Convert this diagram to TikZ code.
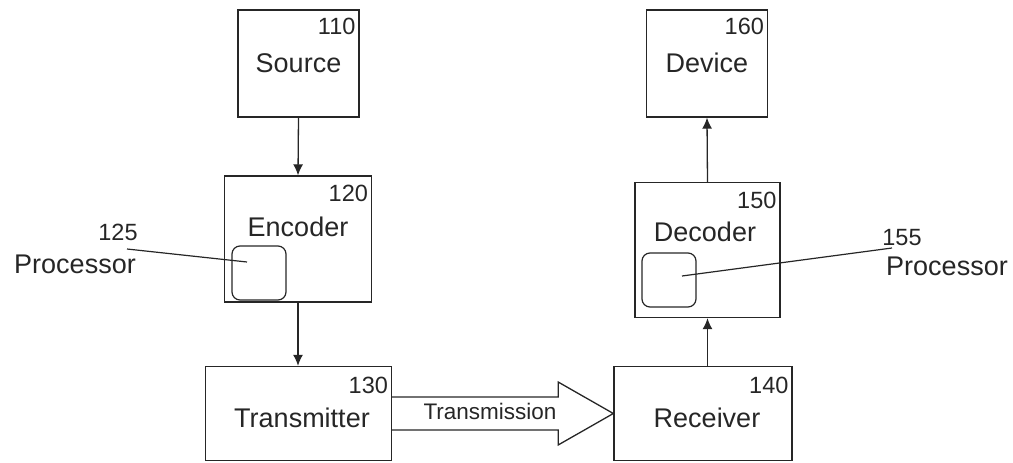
\documentclass[tikz,border=0pt]{standalone}
\usepackage{fontspec}
\setmainfont{Liberation Sans}
\usetikzlibrary{arrows.meta,calc}
\colorlet{ink}{black!85}
\begin{document}
\begin{tikzpicture}[x=1pt,y=-1pt,
  box/.style={draw=ink,line width=1.3pt,rectangle,inner sep=0pt},
  proc/.style={draw=ink,line width=1.2pt,rectangle,rounded corners=8pt,minimum width=54pt,minimum height=54pt,inner sep=0pt},
  lbl/.style={font=\fontsize{27}{30}\selectfont,inner sep=0pt,text=ink},
  num/.style={font=\fontsize{23.5}{25}\selectfont,inner sep=0pt,text=ink},
  conn/.style={draw=ink,line width=1.3pt,-{Latex[length=11pt,width=10pt]}},
  leader/.style={draw=ink,line width=1.2pt}]
\useasboundingbox (0,0) rectangle (1013,463);
% boxes
\node[box,minimum width=121pt,minimum height=107pt] (src) at (298.5,63.5) {};
\node[box,minimum width=147pt,minimum height=126pt] (enc) at (298,239) {};
\node[box,minimum width=186pt,minimum height=94pt] (tx) at (298.5,413.5) {};
\node[box,minimum width=178pt,minimum height=94pt] (rx) at (703,413.5) {};
\node[box,minimum width=145pt,minimum height=135pt] (dec) at (707.5,250) {};
\node[box,minimum width=121pt,minimum height=107pt] (dev) at (707,63.5) {};
\node[proc] (p1) at (259,273) {};
\node[proc] (p2) at (669,280) {};
% main labels
\node[lbl,anchor=base] (tsrc) at (298.5,72) {Source};
\node[lbl,anchor=base] (tenc) at (298,236) {Encoder};
\node[lbl,anchor=base] (ttx) at (302,427) {Transmitter};
\node[lbl,anchor=base] (trx) at (707,427) {Receiver};
\node[lbl,anchor=base] (tdec) at (705,241) {Decoder};
\node[lbl,anchor=base] (tdev) at (707,72) {Device};
% numbers
\node[num,anchor=north east] (n110) at ($(src.north east)+(-4,9)$) {110};
\node[num,anchor=north east] (n120) at ($(enc.north east)+(-4,10)$) {120};
\node[num,anchor=north east] (n130) at ($(tx.north east)+(-4,11)$) {130};
\node[num,anchor=north east] (n140) at ($(rx.north east)+(-4,11)$) {140};
\node[num,anchor=north east] (n150) at ($(dec.north east)+(-4,10)$) {150};
\node[num,anchor=north east] (n160) at ($(dev.north east)+(-4,9)$) {160};
% connectors
\draw[conn] (src.south) -- (enc.north);
\draw[conn] (enc.south) -- (enc.south |- tx.north);
\draw[conn] (dec.south |- rx.north) -- (dec.south);
\draw[conn] (dec.north) -- (dev.south);
% transmission arrow
\draw[draw=ink,line width=1.3pt,line join=miter]
  ($(tx.east)+(0,-16.5)$) -- ($(tx.east)+(166,-16.5)$) -- ($(tx.east)+(166,-31.5)$)
  -- (rx.west) -- ($(tx.east)+(166,31.5)$) -- ($(tx.east)+(166,16.5)$) -- ($(tx.east)+(0,16.5)$);
\node[font=\fontsize{22.5}{24}\selectfont,inner sep=0pt,text=ink] (ttrans) at (490,411) {Transmission};
% processor callouts
\node[num] (n125) at (118,232) {125};
\node[lbl] (tp1) at (75,264) {Processor};
\coordinate (s125) at (127,249);
\coordinate (e125) at (247,262);
\draw[leader] (s125) -- (e125);
\node[num] (n155) at (902,238) {155};
\node[lbl] (tp2) at (947,266) {Processor};
\coordinate (s155) at (892,248);
\coordinate (e155) at (682,276);
\draw[leader] (s155) -- (e155);
\end{tikzpicture}
\end{document}
